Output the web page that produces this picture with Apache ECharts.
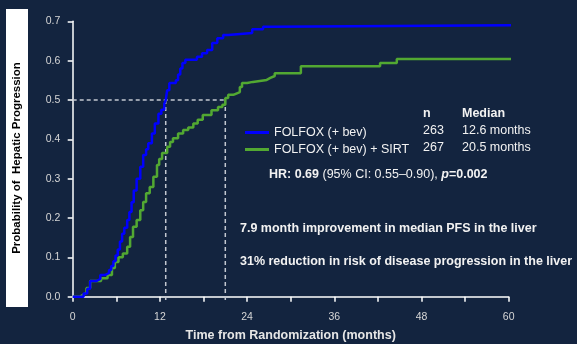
<!DOCTYPE html>
<html>
<head>
<meta charset="utf-8">
<script src="https://cdn.jsdelivr.net/npm/echarts@6/dist/echarts.min.js"></script>
<style>
html,body{margin:0;padding:0;background:#13243f;}
#chart{width:577px;height:344px;}
</style>
</head>
<body>
<div id="chart"></div>
<script>
// time (months) / cumulative probability of hepatic progression
var blue_t = [0,1.5,2.0,2.4,3.3,3.8,4.4,5.0,5.3,5.6,5.9,6.2,6.5,6.8,7.1,7.5,7.8,8.1,8.4,8.8,9.3,9.7,10.1,10.4,10.9,11.3,11.8,12.2,12.6,12.8,13.0,13.3,14.2,14.5,14.8,15.1,15.5,17.1,17.8,18.5,19.2,19.9,20.7,21.4,24.7,26.2,27.5,60.5];
var blue_p = [0,0.008,0.02,0.04,0.045,0.055,0.06,0.068,0.078,0.09,0.105,0.12,0.14,0.16,0.175,0.195,0.215,0.24,0.27,0.3,0.33,0.36,0.375,0.39,0.415,0.44,0.465,0.475,0.49,0.5,0.525,0.543,0.55,0.565,0.58,0.594,0.602,0.61,0.619,0.627,0.645,0.657,0.665,0.67,0.68,0.686,0.69,0.69];
var green_t = [0,1.0,1.4,1.9,2.4,3.9,4.8,5.4,5.8,6.3,6.9,7.5,7.9,8.3,8.8,9.3,9.7,10.1,10.6,11.1,11.6,11.9,12.3,13.0,13.4,13.8,14.5,15.2,15.9,16.6,17.2,17.9,19.1,20.0,20.6,21.0,21.4,22.1,22.6,23.0,23.3,24.0,24.8,26.7,27.2,27.8,31.4,42.3,44.6,60.5];
var green_p = [0,0.005,0.01,0.022,0.04,0.047,0.055,0.073,0.088,0.1,0.11,0.127,0.152,0.178,0.195,0.22,0.241,0.263,0.279,0.305,0.335,0.35,0.365,0.381,0.393,0.403,0.415,0.424,0.43,0.44,0.45,0.462,0.474,0.482,0.488,0.505,0.513,0.517,0.52,0.533,0.543,0.546,0.551,0.556,0.561,0.568,0.586,0.594,0.604,0.604];

var arm_names = ['FOLFOX (+ bev)', 'FOLFOX (+ bev) + SIRT'];
var arm_n = ['263', '267'];
var arm_median = ['12.6 months', '20.5 months'];
var median_x = [12.8, 21.0];   // where the dashed drop lines sit in the picture

var FONT = '"Liberation Sans", Arial, sans-serif';

function pairs(t, p){
	var out = [];
	for(var i=0;i<t.length;i++){ out.push([t[i], p[i]]); }
	return out;
}

var chart = echarts.init(document.getElementById('chart'));

var dash_style = {color:'#c3c8d1', width:1.5, type:[4,3]};
var dash_series = [
	{type:'line', data:[[0,0.5],[median_x[1],0.5]]},
	{type:'line', data:[[median_x[0],0.5],[median_x[0],-0.011]]},
	{type:'line', data:[[median_x[1],0.5],[median_x[1],-0.011]]}
].map(function(s){
	s.symbol = 'none'; s.clip = false; s.silent = true;
	s.lineStyle = dash_style; s.z = 1;
	return s;
});

chart.setOption({
	backgroundColor:'#13243f',
	animation:false,
	textStyle:{fontFamily:FONT},
	grid:{left:72.7, right:68.3, top:21.3, bottom:47.3, outerBoundsMode:'none', containLabel:false},
	xAxis:{
		type:'value', min:0, max:60, interval:6, offset:4.6,
		name:'Time from Randomization (months)',
		nameLocation:'middle', nameGap:28,
		nameTextStyle:{color:'#e6e6e6', fontSize:12.5, fontWeight:'bold', fontFamily:FONT},
		axisLine:{lineStyle:{color:'#ffffff', width:1.5}},
		axisTick:{length:5, lineStyle:{color:'#ffffff', width:1.5}},
		axisLabel:{color:'#d6d6d6', fontSize:10.5, margin:10, fontFamily:FONT,
			formatter:function(v){ return v % 12 === 0 ? String(v) : ''; }},
		splitLine:{show:false}
	},
	yAxis:{
		type:'value', min:0, max:0.7, interval:0.1, offset:3.4,
		axisLine:{show:true, lineStyle:{color:'#ffffff', width:1.5}},
		axisTick:{show:true, length:5, lineStyle:{color:'#ffffff', width:1.5}},
		axisLabel:{color:'#d6d6d6', fontSize:10.5, margin:9, fontFamily:FONT,
			formatter:function(v){ return v.toFixed(1); }},
		splitLine:{show:false}
	},
	legend:{
		orient:'vertical', left:240, top:120, itemGap:2,
		itemWidth:24, itemHeight:3, icon:'rect', itemTextGap:6,
		data:arm_names,
		textStyle:{color:'#f2f2f2', fontSize:12.5, lineHeight:15, fontFamily:FONT}
	},
	series:dash_series.concat([
		{name:arm_names[1], type:'line', step:'end', symbol:'none', clip:false,
			data:pairs(green_t, green_p), color:'#52a832',
			lineStyle:{color:'#52a832', width:2.5}, z:3},
		{name:arm_names[0], type:'line', step:'end', symbol:'none', clip:false,
			data:pairs(blue_t, blue_p), color:'#0000ff',
			lineStyle:{color:'#0000ff', width:2.5}, z:4}
	]),
	graphic:[
		{type:'rect', shape:{x:6, y:9, width:22, height:298}, style:{fill:'#ffffff'}},
		{type:'text', x:17, y:158, rotation:Math.PI/2,
			style:{text:'Probability of  Hepatic Progression', fill:'#000000',
				font:'bold 11.5px '+FONT, align:'center', verticalAlign:'middle'}},
		{type:'text', x:423, y:114, style:{text:'n', fill:'#f2f2f2', font:'bold 12.5px '+FONT, verticalAlign:'middle'}},
		{type:'text', x:462, y:114, style:{text:'Median', fill:'#f2f2f2', font:'bold 12.5px '+FONT, verticalAlign:'middle'}},
		{type:'text', x:423, y:131, style:{text:arm_n[0], fill:'#f2f2f2', font:'12.5px '+FONT, verticalAlign:'middle'}},
		{type:'text', x:462, y:131, style:{text:arm_median[0], fill:'#f2f2f2', font:'12.5px '+FONT, verticalAlign:'middle'}},
		{type:'text', x:423, y:148, style:{text:arm_n[1], fill:'#f2f2f2', font:'12.5px '+FONT, verticalAlign:'middle'}},
		{type:'text', x:462, y:148, style:{text:arm_median[1], fill:'#f2f2f2', font:'12.5px '+FONT, verticalAlign:'middle'}},
		{type:'text', x:269, y:175, style:{
			text:'{b|HR: 0.69}{r| (95% CI: 0.55\u20130.90), }{i|p}{b|=0.002}',
			verticalAlign:'middle',
			rich:{
				b:{fill:'#f2f2f2', fontWeight:'bold', fontSize:12.5, fontFamily:FONT},
				r:{fill:'#f2f2f2', fontSize:12.5, fontFamily:FONT},
				i:{fill:'#f2f2f2', fontWeight:'bold', fontStyle:'italic', fontSize:12.5, fontFamily:FONT}
			}}},
		{type:'text', x:240, y:229, style:{text:'7.9 month improvement in median PFS in the liver',
			fill:'#f2f2f2', font:'bold 12.5px '+FONT, verticalAlign:'middle'}},
		{type:'text', x:240, y:262, style:{text:'31% reduction in risk of disease progression in the liver',
			fill:'#f2f2f2', font:'bold 12.5px '+FONT, verticalAlign:'middle'}}
	]
});
</script>
</body>
</html>
